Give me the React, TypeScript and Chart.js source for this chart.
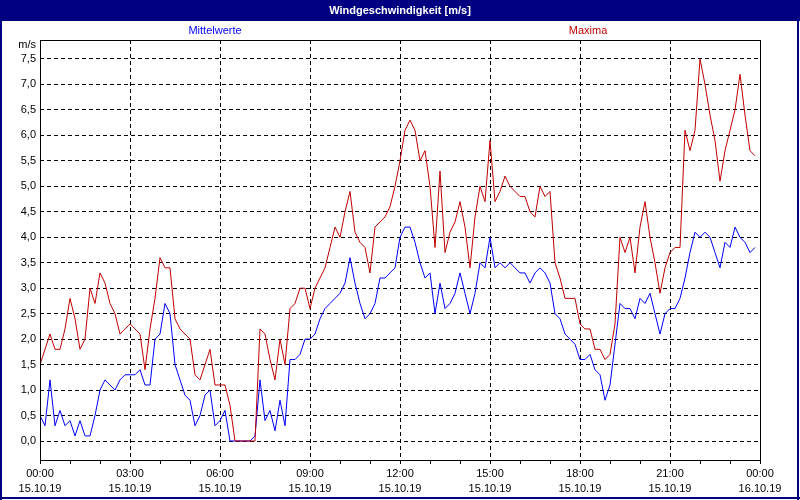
import React, { useEffect, useRef } from "react";
import { Chart, registerables } from "chart.js";

Chart.register(...registerables);

// 10-minute samples, 15.10.19 00:00 .. 23:50
const meanValues = [
  0.5, 0.3, 1.2, 0.3, 0.6, 0.3, 0.4, 0.1, 0.4, 0.1, 0.1, 0.5,
  1.0, 1.2, 1.1, 1.0, 1.2, 1.3, 1.3, 1.3, 1.4, 1.1, 1.1, 2.0,
  2.1, 2.7, 2.5, 1.5, 1.2, 0.9, 0.8, 0.3, 0.5, 0.9, 1.0, 0.3,
  0.4, 0.6, 0.0, 0.0, 0.0, 0.0, 0.0, 0.1, 1.2, 0.4, 0.6, 0.2,
  0.8, 0.3, 1.6, 1.6, 1.7, 2.0, 2.0, 2.1, 2.4, 2.6, 2.7, 2.8,
  2.9, 3.1, 3.6, 3.1, 2.7, 2.4, 2.5, 2.7, 3.2, 3.2, 3.3, 3.4,
  4.0, 4.2, 4.2, 3.9, 3.5, 3.2, 3.3, 2.5, 3.1, 2.6, 2.7, 2.9,
  3.3, 2.9, 2.5, 2.9, 3.5, 3.4, 4.0, 3.4, 3.5, 3.4, 3.5, 3.4,
  3.3, 3.3, 3.1, 3.3, 3.4, 3.3, 3.1, 2.5, 2.4, 2.1, 2.0, 1.9,
  1.6, 1.6, 1.7, 1.4, 1.3, 0.8, 1.1, 1.9, 2.7, 2.6, 2.6, 2.4,
  2.8, 2.7, 2.9, 2.5, 2.1, 2.5, 2.6, 2.6, 2.8, 3.2, 3.7, 4.1,
  4.0, 4.1, 4.0, 3.7, 3.4, 3.9, 3.8, 4.2, 4.0, 3.9, 3.7, 3.8,
];

const maxValues = [
  1.5, 1.8, 2.1, 1.8, 1.8, 2.2, 2.8, 2.4, 1.8, 2.0, 3.0, 2.7,
  3.3, 3.1, 2.7, 2.5, 2.1, 2.2, 2.3, 2.2, 2.1, 1.4, 2.2, 2.8,
  3.6, 3.4, 3.4, 2.4, 2.2, 2.1, 2.0, 1.3, 1.2, 1.5, 1.8, 1.1,
  1.1, 1.1, 0.7, 0.0, 0.0, 0.0, 0.0, 0.0, 2.2, 2.1, 1.6, 1.2,
  2.0, 1.5, 2.6, 2.7, 3.0, 3.0, 2.6, 3.0, 3.2, 3.4, 3.8, 4.2,
  4.0, 4.5, 4.9, 4.1, 3.9, 3.8, 3.3, 4.2, 4.3, 4.4, 4.6, 5.0,
  5.5, 6.1, 6.3, 6.1, 5.5, 5.7, 5.0, 3.8, 5.3, 3.7, 4.1, 4.3,
  4.7, 4.2, 3.4, 4.4, 5.0, 4.7, 5.9, 4.7, 4.9, 5.2, 5.0, 4.9,
  4.8, 4.8, 4.5, 4.4, 5.0, 4.8, 4.9, 3.5, 3.2, 2.8, 2.8, 2.8,
  2.3, 2.2, 2.2, 1.8, 1.8, 1.6, 1.7, 2.3, 4.0, 3.7, 4.0, 3.3,
  4.2, 4.7, 4.0, 3.5, 2.9, 3.4, 3.7, 3.8, 3.8, 6.1, 5.7, 6.1,
  7.5, 7.0, 6.4, 5.9, 5.1, 5.7, 6.1, 6.5, 7.2, 6.4, 5.7, 5.6,
];

const sampleMinutes = 10;

const majorHours = [0, 3, 6, 9, 12, 15, 18, 21, 24];
const xTickTimes = ["00:00", "03:00", "06:00", "09:00", "12:00", "15:00", "18:00", "21:00", "00:00"];
const xTickDates = ["15.10.19", "15.10.19", "15.10.19", "15.10.19", "15.10.19", "15.10.19", "15.10.19", "15.10.19", "16.10.19"];
const minorHours = [0, 1, 2, 3, 4, 5, 6, 7, 8, 9, 10, 11, 12, 13, 14, 15, 16, 17, 18, 19, 20, 21, 22, 23, 24];

const yTickValues = [0, 0.5, 1, 1.5, 2, 2.5, 3, 3.5, 4, 4.5, 5, 5.5, 6, 6.5, 7, 7.5];
const yTickLabels = ["0,0", "0,5", "1,0", "1,5", "2,0", "2,5", "3,0", "3,5", "4,0", "4,5", "5,0", "5,5", "6,0", "6,5", "7,0", "7,5"];

const titleText = "Windgeschwindigkeit [m/s]";
const meanLabel = "Mittelwerte";
const maxLabel = "Maxima";
const unitLabel = "m/s";

const FONT = "'Liberation Sans', Arial, sans-serif";
const NAVY = "#000080";
const BLUE = "#0000FF";
const RED = "#C00000";

const chromePlugin = {
  id: "chrome",
  beforeDraw(chart: any) {
    const { ctx, width, height } = chart;
    ctx.save();
    ctx.fillStyle = "#FFFFFF";
    ctx.fillRect(0, 0, width, height);
    ctx.fillStyle = NAVY;
    ctx.fillRect(0, 0, width, 21);
    ctx.fillRect(0, 0, 2, height);
    ctx.fillRect(width - 3, 0, 2, height);
    ctx.fillRect(0, height - 3, width, 2);
    ctx.fillStyle = "#FFFFFF";
    ctx.font = `bold 11px ${FONT}`;
    ctx.textAlign = "center";
    ctx.textBaseline = "middle";
    ctx.fillText(titleText, width / 2, 10.5);
    ctx.restore();
  },
  afterDraw(chart: any) {
    const { ctx, chartArea } = chart;
    ctx.save();
    ctx.strokeStyle = "#000";
    ctx.lineWidth = 1;
    ctx.setLineDash([]);
    ctx.strokeRect(
      Math.round(chartArea.left) + 0.5,
      Math.round(chartArea.top) + 0.5,
      Math.round(chartArea.right - chartArea.left),
      Math.round(chartArea.bottom - chartArea.top)
    );
    ctx.font = `11px ${FONT}`;
    ctx.textBaseline = "middle";
    ctx.textAlign = "center";
    ctx.fillStyle = BLUE;
    ctx.fillText(meanLabel, 215, 31);
    ctx.fillStyle = RED;
    ctx.fillText(maxLabel, 588, 31);
    ctx.fillStyle = "#000";
    ctx.textAlign = "right";
    ctx.fillText(unitLabel, chartArea.left - 4, 45);
    ctx.restore();
  },
};

export default function App() {
  const canvasRef = useRef<HTMLCanvasElement | null>(null);

  useEffect(() => {
    if (!canvasRef.current) return;
    const toPoints = (arr: number[]) =>
      arr.map((v, i) => ({ x: (i * sampleMinutes) / 60, y: v }));

    const chart = new Chart(canvasRef.current, {
      type: "line",
      data: {
        datasets: [
          {
            label: maxLabel,
            data: toPoints(maxValues),
            borderColor: RED,
            borderWidth: 1,
            pointRadius: 0,
            tension: 0,
            fill: false,
          },
          {
            label: meanLabel,
            data: toPoints(meanValues),
            borderColor: BLUE,
            borderWidth: 1,
            pointRadius: 0,
            tension: 0,
            fill: false,
          },
        ],
      },
      options: {
        animation: false,
        responsive: false,
        maintainAspectRatio: false,
        devicePixelRatio: 1,
        layout: { padding: { top: 40, right: 40, left: 0, bottom: 0 } },
        plugins: {
          legend: { display: false },
          tooltip: { enabled: false },
          title: { display: false },
        },
        scales: {
          x: {
            type: "linear",
            min: 0,
            max: 24,
            afterBuildTicks: (s: any) => {
              s.ticks = minorHours.map((v) => ({ value: v }));
            },
            afterFit: (s: any) => {
              s.height = 40;
            },
            grid: {
              color: (c: any) => {
                const v = c.tick ? c.tick.value : -1;
                return majorHours.includes(v) && v > 0 && v < 24 ? "#000" : "rgba(0,0,0,0)";
              },
              lineWidth: 1,
              drawTicks: true,
              tickLength: 4,
              tickColor: "#000",
              tickWidth: 1,
              tickBorderDash: [],
            },
            border: { display: false, dash: [4, 3] },
            ticks: {
              autoSkip: false,
              maxRotation: 0,
              minRotation: 0,
              padding: 3,
              color: "#000",
              font: { family: FONT, size: 11, lineHeight: "14.5px" },
              callback: (v: any) => {
                const k = majorHours.indexOf(Number(v));
                return k >= 0 ? [xTickTimes[k], xTickDates[k]] : "";
              },
            },
          },
          y: {
            type: "linear",
            min: -0.373,
            max: 7.873,
            afterBuildTicks: (s: any) => {
              s.ticks = yTickValues.map((v) => ({ value: v }));
            },
            afterFit: (s: any) => {
              s.width = 40;
            },
            grid: {
              color: "#000",
              lineWidth: 1,
              drawTicks: false,
            },
            border: { display: false, dash: [4, 3] },
            ticks: {
              padding: 4,
              color: "#000",
              font: { family: FONT, size: 11 },
              callback: (_v: any, i: number) => yTickLabels[i],
            },
          },
        },
      },
      plugins: [chromePlugin],
    } as any);

    return () => chart.destroy();
  }, []);

  return (
    <div style={{ position: "fixed", left: 0, top: 0, width: 800, height: 500, background: "#fff" }}>
      <canvas ref={canvasRef} width={800} height={500} style={{ display: "block", width: 800, height: 500 }} />
    </div>
  );
}
